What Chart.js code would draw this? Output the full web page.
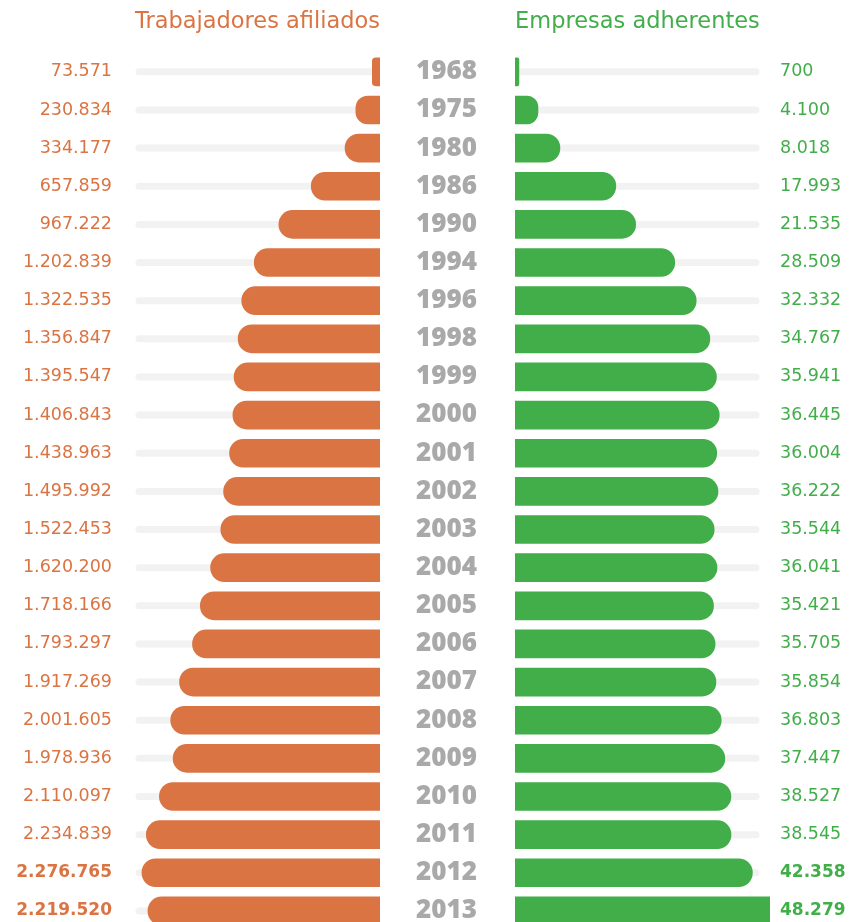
<!DOCTYPE html>
<html>
<head>
<meta charset="utf-8">
<script src="https://cdn.jsdelivr.net/npm/chart.js@4.4.1/dist/chart.umd.min.js"></script>
<style>
  html, body { margin: 0; padding: 0; background: #ffffff; overflow: hidden; }
  #izq { position: absolute; left: 0; top: 0; width: 514px; height: 930px; }
  #der { position: absolute; left: 514px; top: 0; width: 338px; height: 930px; }
</style>
</head>
<body>
<div id="izq"><canvas id="chartTrabajadores"></canvas></div>
<div id="der"><canvas id="chartEmpresas"></canvas></div>
<script>
// Datos
const anios = ["1968","1975","1980","1986","1990","1994","1996","1998","1999","2000","2001","2002","2003","2004","2005","2006","2007","2008","2009","2010","2011","2012","2013"];
const trabajadores = [73571,230834,334177,657859,967222,1202839,1322535,1356847,1395547,1406843,1438963,1495992,1522453,1620200,1718166,1793297,1917269,2001605,1978936,2110097,2234839,2276765,2219520];
const empresas = [700,4100,8018,17993,21535,28509,32332,34767,35941,36445,36004,36222,35544,36041,35421,35705,35854,36803,37447,38527,38545,42358,48279];
// filas con la cifra destacada en negrita
const destacados = ["2012","2013"];

const NARANJA = "#da7443";
const VERDE = "#41ae4a";
const GRIS_ANIO = "#a9a9a9";
const FUENTE = "'DejaVu Sans', sans-serif";

// formato con punto de miles (4.100, 1.202.839)
function miles(n){
  return String(n).replace(/\B(?=(\d{3})+(?!\d))/g, ".");
}

// pista gris de fondo detrás de cada barra
const pista = {
  id: "pista",
  beforeDatasetsDraw(chart, args, opts){
    const ctx = chart.ctx;
    const area = chart.chartArea;
    const y = chart.scales.y;
    ctx.save();
    ctx.strokeStyle = "#f2f2f2";
    ctx.lineWidth = 7;
    ctx.lineCap = "round";
    anios.forEach((a, i) => {
      const py = y.getPixelForValue(i);
      ctx.beginPath();
      ctx.moveTo(area.left + 4 + (opts.recorteIzq || 0), py);
      ctx.lineTo(area.right - 4 - (opts.recorteDer || 0), py);
      ctx.stroke();
    });
    ctx.restore();
  }
};

function fuenteCifra(ctx){
  const negrita = destacados.includes(anios[ctx.index]);
  return { family: FUENTE, size: negrita ? 17 : 17.5, weight: negrita ? "bold" : "normal" };
}

// el eje solo ocupa el ancho indicado y no reserva margen vertical
function ajustaEje(ancho){
  return s => {
    s.width = ancho;
    s.paddingTop = 0;
    s.paddingBottom = 0;
  };
}

function graficoTrabajadores(){
  const canvas = document.getElementById("chartTrabajadores");
  new Chart(canvas, {
    type: "bar",
    data: {
      labels: anios,
      datasets: [{
        label: "Trabajadores afiliados",
        data: trabajadores,
        backgroundColor: NARANJA,
        barThickness: 28,
        borderRadius: 14,
        borderSkipped: "start"
      }]
    },
    options: {
      indexAxis: "y",
      responsive: true,
      maintainAspectRatio: false,
      animation: false,
      layout: { padding: 0 },
      plugins: {
        legend: { display: false },
        tooltip: { enabled: false },
        title: {
          display: true,
          text: "Trabajadores afiliados",
          color: NARANJA,
          fullSize: false,
          font: { family: FUENTE, size: 22.5, weight: "normal", lineHeight: 1.1 },
          padding: { top: 10, bottom: 18 }
        },
        pista: {}
      },
      scales: {
        x: { reverse: true, min: 0, max: 2343000, display: false },
        y: {
          position: "left",
          offset: true,
          grid: { display: false, drawTicks: false },
          border: { display: false },
          ticks: {
            padding: 23,
            color: NARANJA,
            font: fuenteCifra,
            callback: (v, i) => miles(trabajadores[i])
          },
          afterFit: ajustaEje(135)
        },
        y2: {
          type: "category",
          labels: anios,
          position: "right",
          offset: true,
          grid: { display: false, drawTicks: false },
          border: { display: false },
          ticks: {
            padding: 36,
            crossAlign: "center",
            color: GRIS_ANIO,
            font: { family: "'Open Sans', sans-serif", size: 26, weight: "800" }
          },
          afterFit: ajustaEje(134)
        }
      }
    },
    plugins: [pista]
  });
}

function graficoEmpresas(){
  const canvas = document.getElementById("chartEmpresas");
  new Chart(canvas, {
    type: "bar",
    data: {
      labels: anios,
      datasets: [{
        label: "Empresas adherentes",
        data: empresas,
        backgroundColor: VERDE,
        barThickness: 28,
        borderRadius: 14,
        borderSkipped: "start"
      }]
    },
    options: {
      indexAxis: "y",
      responsive: true,
      maintainAspectRatio: false,
      animation: false,
      layout: { padding: { top: 0, bottom: 0, left: 1 } },
      plugins: {
        legend: { display: false },
        tooltip: { enabled: false },
        title: {
          display: true,
          text: "Empresas adherentes",
          color: VERDE,
          align: "start",
          fullSize: false,
          font: { family: FUENTE, size: 22.5, weight: "normal", lineHeight: 1.1 },
          padding: { top: 10, bottom: 18 }
        },
        pista: { recorteDer: 10 }
      },
      scales: {
        x: { min: 0, max: 45500, display: false },
        y: {
          position: "right",
          offset: true,
          grid: { display: false, drawTicks: false },
          border: { display: false },
          ticks: {
            padding: 10,
            color: VERDE,
            font: fuenteCifra,
            callback: (v, i) => miles(empresas[i])
          },
          afterFit: ajustaEje(82)
        }
      }
    },
    plugins: [pista]
  });
}

graficoTrabajadores();
graficoEmpresas();
</script>
</body>
</html>
